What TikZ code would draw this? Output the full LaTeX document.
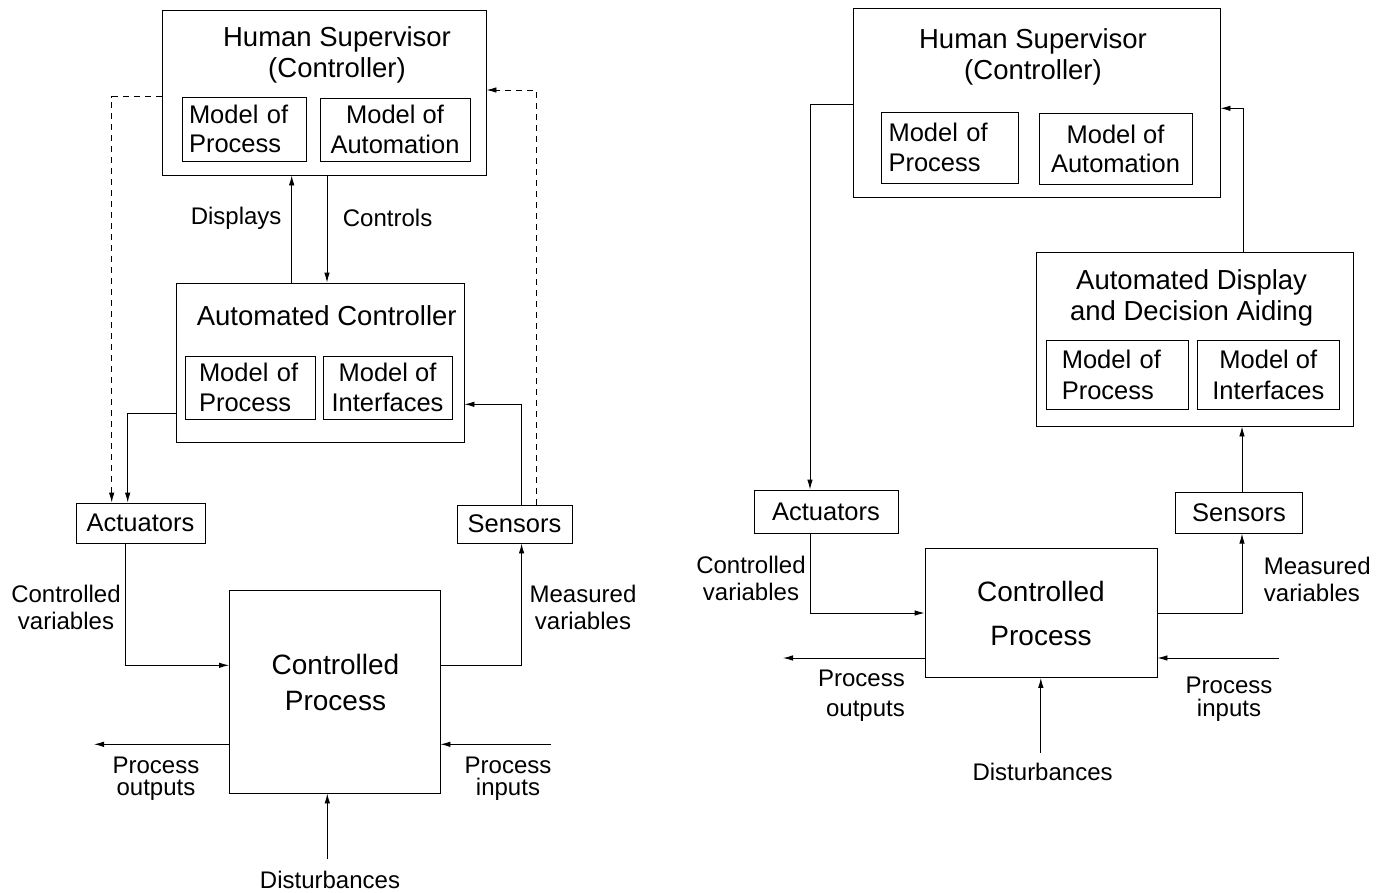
\documentclass[tikz,border=0pt]{standalone}
\usepackage{fontspec}
\setmainfont{Liberation Sans}
\usetikzlibrary{arrows.meta}
\tikzset{>={Latex[length=10pt,width=5.5pt]}}

\newcommand{\titlefont}{\fontsize{27.5}{30.5}\selectfont}
\newcommand{\boxfont}{\fontsize{25.5}{29.5}\selectfont}
\newcommand{\labfont}{\fontsize{24}{27}\selectfont}

\tikzset{
  blk/.style={draw,rectangle,inner sep=0pt,line width=0.9pt,font=\boxfont},
  mdl/.style={blk,align=left},
  txt/.style={inner sep=0pt,align=center,font=\labfont},
  ttl/.style={inner sep=0pt,align=center,font=\titlefont},
  conn/.style={line width=0.9pt,->},
  dconn/.style={conn,dash pattern=on 6pt off 5pt}
}

\begin{document}
\begin{tikzpicture}[x=1pt,y=-1pt]
\useasboundingbox (0,0) rectangle (1390,892);

% ---------- left: supervisory control with automated controller ----------
\node[blk,minimum width=324,minimum height=165] (hsL) at (324,92.5) {};
\node[ttl] (hsLt) at (337,55) {Human Supervisor\\(Controller)};
\node[mdl,minimum width=124,minimum height=64,text width=110] (hsLp) at (244,129) {Model of\\Process};
\node[blk,align=center,minimum width=150,minimum height=63] (hsLa) at (395,129.5) {Model of\\Automation};

\node[blk,minimum width=288,minimum height=159] (acL) at (320,362.5) {};
\node[ttl] (acLt) at (326.7,316) {Automated Controller};
\node[mdl,minimum width=130,minimum height=63,text width=102] (acLp) at (250,387.5) {Model of\\Process};
\node[blk,align=center,minimum width=129,minimum height=63] (acLi) at (387.5,387.5) {Model of\\Interfaces};

\node[blk,minimum width=129,minimum height=40] (actL) at (140.5,523) {Actuators};
\node[blk,minimum width=115,minimum height=38] (senL) at (514.5,524) {Sensors};
\node[blk,minimum width=210.5,minimum height=203] (cpL) at (334.75,691.5) {};
\node[ttl,font=\fontsize{28}{36}\selectfont] (cpLt) at (335.5,682) {Controlled\\Process};

\coordinate (outL) at (94,744.3);
\coordinate (inL) at (551,744.3);
\coordinate (disL) at (327.3,859.3);

% links
\draw[conn] ([xshift=3]hsL.south) -- ([xshift=3]hsL.south |- acL.north);
\draw[conn] ([xshift=-28.3]acL.north) -- ([xshift=-28.3]acL.north |- hsL.south);
\draw[conn] ([yshift=-51]acL.west) -| ([xshift=-12.8]actL.north);
\draw[conn] ([xshift=7.2]senL.north) |- ([yshift=-41.8]acL.east);
\draw[dconn] ([yshift=-4.2]hsL.west) -| ([xshift=-28.8]actL.north);
\draw[dconn] ([xshift=22.2]senL.north) |- ([yshift=2.5]hsL.east);
\draw[conn] ([xshift=-14.8]actL.south) |- ([yshift=26.2]cpL.west);
\draw[conn] ([yshift=26.2]cpL.east) -| ([xshift=7.1]senL.south);
\draw[conn] (cpL.west |- outL) -- (outL);
\draw[conn] (inL) -- (inL -| cpL.east);
\draw[conn] (disL) -- (disL |- cpL.south);

% labels
\node[txt,anchor=east] (dspL) at (281.7,218) {Displays};
\node[txt,anchor=west] (ctlL) at (342.7,218) {Controls};
\node[txt] (cvL) at (66,607) {Controlled\\variables};
\node[txt] (mvL) at (583,607) {Measured\\variables};
\node[txt,font=\fontsize{24}{22}\selectfont] (poL) at (156,779) {Process\\outputs};
\node[txt,font=\fontsize{24}{22}\selectfont] (piL) at (508,779) {Process\\inputs};
\node[txt] (dsL) at (330,880) {Disturbances};

% ---------- right: supervisory control with display aiding ----------
\node[blk,minimum width=367,minimum height=189] (hsR) at (1036.5,102.5) {};
\node[ttl] (hsRt) at (1033,57) {Human Supervisor\\(Controller)};
\node[mdl,minimum width=137,minimum height=71,text width=122,font=\fontsize{25.5}{30}\selectfont] (hsRp) at (949.5,147.5) {Model of\\Process};
\node[blk,align=center,minimum width=153,minimum height=71,font=\fontsize{25.5}{29}\selectfont] (hsRa) at (1115.5,149) {Model of\\Automation};

\node[blk,minimum width=317.5,minimum height=174] (adR) at (1194.75,339) {};
\node[ttl,font=\fontsize{27.5}{31.7}\selectfont] (adRt) at (1191.6,298) {Automated Display\\and Decision Aiding};
\node[mdl,minimum width=142.6,minimum height=69.7,text width=111,font=\fontsize{25.5}{31.6}\selectfont] (adRp) at (1117.3,375) {Model of\\Process};
\node[blk,align=center,minimum width=142.6,minimum height=69.7,font=\fontsize{25.5}{31.6}\selectfont] (adRi) at (1268.3,375) {Model of\\Interfaces};

\node[blk,minimum width=144,minimum height=43] (actR) at (826,511.5) {Actuators};
\node[blk,minimum width=127,minimum height=41] (senR) at (1239,512.7) {Sensors};
\node[blk,minimum width=232,minimum height=129,align=center,
      font=\fontsize{28}{44}\selectfont] (cpR) at (1041,613) {Controlled\\Process};

\coordinate (outR) at (783,658);
\coordinate (inR) at (1278.8,658);
\coordinate (disR) at (1040.8,752.7);

% links
\draw[conn] ([yshift=-1.5]hsR.west) -| ([xshift=-16]actR.north);
\draw[conn] ([xshift=48.5]adR.north) |- ([yshift=-5.8]hsR.east);
\draw[conn] ([xshift=3]senR.north) -- ([xshift=3]senR.north |- adR.south);
\draw[conn] ([xshift=-16]actR.south) |- (cpR.west);
\draw[conn] (cpR.east) -| ([xshift=3]senR.south);
\draw[conn] (cpR.west |- outR) -- (outR);
\draw[conn] (inR) -- (inR -| cpR.east);
\draw[conn] (disR) -- (disR |- cpR.south);

% labels
\node[txt] (cvR) at (751,578) {Controlled\\variables};
\node[txt,align=left,anchor=west] (mvR) at (1263.7,579) {Measured\\variables};
\node[txt,align=right,anchor=east,font=\fontsize{24}{30}\selectfont] (poR) at (905,696) {Process\\outputs};
\node[txt,font=\fontsize{24}{23}\selectfont] (piR) at (1229,699.5) {Process\\inputs};
\node[txt] (dsR) at (1042.6,772) {Disturbances};

\end{tikzpicture}
\end{document}
